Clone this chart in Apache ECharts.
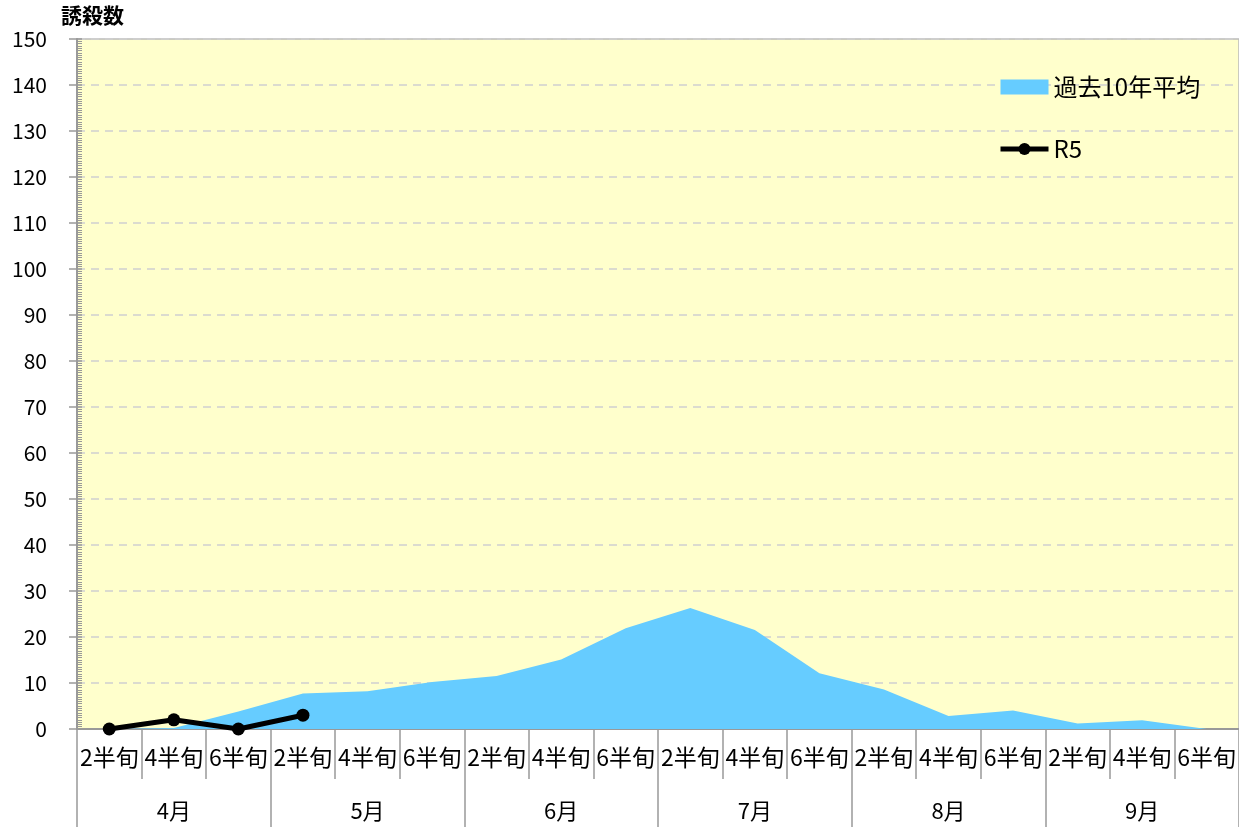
<!DOCTYPE html>
<html>
<head>
<meta charset="utf-8">
<script src="https://cdn.jsdelivr.net/npm/echarts@6/dist/echarts.min.js"></script>
<style>html,body{margin:0;padding:0;background:#fff}#c{width:1239px;height:827px}</style>
</head>
<body>
<div id="c"></div>
<script>
var periods = ['2半旬','4半旬','6半旬','2半旬','4半旬','6半旬','2半旬','4半旬','6半旬','2半旬','4半旬','6半旬','2半旬','4半旬','6半旬','2半旬','4半旬','6半旬'];
var months = ['4月','5月','6月','7月','8月','9月'];
var avg10 = [0, 0.2, 3.8, 7.7, 8.2, 10.2, 11.5, 15.1, 21.9, 26.3, 21.5, 12.1, 8.6, 2.8, 4.0, 1.2, 1.9, 0];
var r5 = [0, 2, 0, 3];
var yTicks = {min: 0, max: 150, interval: 10};

var font = '"Noto Sans CJK JP", "Noto Sans", sans-serif';
var chart = echarts.init(document.getElementById('c'));
chart.setOption({
  animation: false,
  textStyle: {fontFamily: font},
  grid: {left: 77, top: 39, right: -4, bottom: 98, show: true, backgroundColor: '#FFFFCC', borderColor: '#BBBBBB', borderWidth: 1.5},
  graphic: [{type: 'text', left: 61, top: 5, style: {text: '誘殺数', font: 'bold 21px ' + font, fill: '#000'}}],
  legend: {
    orient: 'vertical', left: 993, top: 70, itemWidth: 48, itemHeight: 15, itemGap: 38,
    textStyle: {fontSize: 24, color: '#000', fontFamily: font},
    data: [{name: '過去10年平均', icon: 'rect'}, {name: 'R5', lineStyle: {width: 5, color: '#000'}}]
  },
  xAxis: [{
    type: 'category', data: periods, position: 'bottom',
    axisLine: {show: true, lineStyle: {color: '#999', width: 2}},
    axisTick: {show: true, interval: 0, length: 50, lineStyle: {color: '#999', width: 1.5}},
    axisLabel: {show: true, interval: 0, margin: 17, fontSize: 23, color: '#000', fontFamily: font}
  }, {
    type: 'category', data: months, position: 'bottom',
    axisLine: {show: false},
    axisTick: {show: true, interval: 0, length: 110, lineStyle: {color: '#999', width: 1.5}},
    axisLabel: {show: true, interval: 0, margin: 71, fontSize: 22, color: '#000', fontFamily: font}
  }],
  yAxis: [{
    type: 'value', min: yTicks.min, max: yTicks.max, interval: yTicks.interval,
    axisLine: {show: true, lineStyle: {color: '#999', width: 2}},
    axisTick: {show: true, length: 8, lineStyle: {color: '#999', width: 1.5}},
    axisLabel: {margin: 30, fontSize: 21, color: '#000', fontFamily: font},
    splitLine: {show: true, lineStyle: {color: '#D0D0D0', type: [8, 6], width: 1.5}}
  }, {
    type: 'value', position: 'left', min: yTicks.min, max: yTicks.max, interval: yTicks.interval,
    axisLine: {show: false},
    axisTick: {show: true, inside: true, length: 5, lineStyle: {color: '#999', width: 1.5}},
    minorTick: {show: true, splitNumber: 20, length: 5, lineStyle: {color: '#999', width: 1}},
    axisLabel: {show: false},
    splitLine: {show: false}
  }],
  series: [{
    name: '過去10年平均', type: 'line', data: avg10, symbol: 'none',
    itemStyle: {color: '#66CCFF'},
    lineStyle: {width: 0, color: '#66CCFF'},
    areaStyle: {color: '#66CCFF', opacity: 1}
  }, {
    name: 'R5', type: 'line', data: r5, symbol: 'circle', symbolSize: 13,
    itemStyle: {color: '#000'},
    lineStyle: {width: 5, color: '#000'}
  }]
});
</script>
</body>
</html>
